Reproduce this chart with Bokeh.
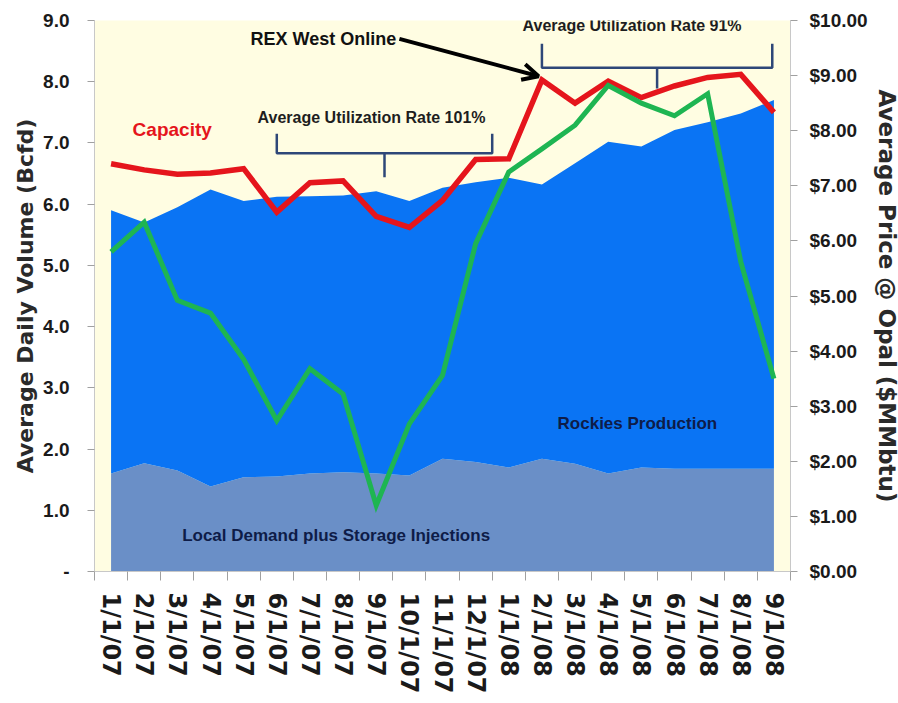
from bokeh.plotting import figure
from bokeh.models import (Range1d, LinearAxis, FixedTicker, NumeralTickFormatter,
                          Label, Arrow, OpenHead, ColumnDataSource)
from bokeh.embed import file_html
from bokeh.resources import INLINE

# ---------------- data ----------------
months = ["1/1/07", "2/1/07", "3/1/07", "4/1/07", "5/1/07", "6/1/07", "7/1/07",
          "8/1/07", "9/1/07", "10/1/07", "11/1/07", "12/1/07", "1/1/08", "2/1/08",
          "3/1/08", "4/1/08", "5/1/08", "6/1/08", "7/1/08", "8/1/08", "9/1/08"]
local_demand = [1.60, 1.77, 1.65, 1.39, 1.54, 1.55, 1.60, 1.62, 1.60, 1.57, 1.84,
                1.79, 1.70, 1.84, 1.76, 1.60, 1.70, 1.68, 1.68, 1.68, 1.68]
rockies_production = [5.90, 5.70, 5.95, 6.24, 6.05, 6.12, 6.13, 6.14, 6.21, 6.05, 6.27,
                      6.36, 6.43, 6.32, 6.67, 7.02, 6.94, 7.21, 7.34, 7.48, 7.70]
capacity = [6.66, 6.56, 6.49, 6.51, 6.58, 5.87, 6.35, 6.38, 5.80, 5.62, 6.06,
            6.73, 6.74, 8.03, 7.65, 8.01, 7.74, 7.93, 8.07, 8.12, 7.50]
price = [5.80, 6.34, 4.92, 4.69, 3.85, 2.74, 3.68, 3.22, 1.20, 2.68, 3.56,
         5.95, 7.25, 7.67, 8.10, 8.82, 8.50, 8.27, 8.67, 5.62, 3.50]
volume_ticks = [0, 1, 2, 3, 4, 5, 6, 7, 8, 9]
volume_tick_labels = ["-", "1.0", "2.0", "3.0", "4.0", "5.0", "6.0", "7.0", "8.0", "9.0"]
price_ticks = [0, 1, 2, 3, 4, 5, 6, 7, 8, 9, 10]

# ---------------- styles ----------------
CREAM = "#FFFDE2"
BLUE = "#0A74F4"
GREYBLUE = "#6A8FC7"
RED = "#E5151C"
GREEN = "#1EB552"
NAVY = "#0E1C48"
BRACKET = "#2E4778"
AXIS_GREY = "#C8C8C8"
TICK_FONT = "Liberation Sans"
XTICK_FONT = "DejaVu Sans"
TITLE_FONT = "DejaVu Sans"

n = len(months)
xc = [i + 0.5 for i in range(n)]
zeros = [0] * n
src = ColumnDataSource(dict(x=xc, base=zeros, local=local_demand, prod=rockies_production,
                            cap=capacity, price=price))

p = figure(frame_width=696, frame_height=551, x_range=Range1d(0, n),
           y_range=Range1d(0, volume_ticks[-1]),
           output_backend="svg", toolbar_location=None,
           min_border_left=94, min_border_right=106, min_border_top=20, min_border_bottom=130)
p.extra_y_ranges = {"price": Range1d(0, price_ticks[-1])}
p.background_fill_color = CREAM
p.border_fill_color = "white"
p.outline_line_color = None
p.xgrid.visible = False
p.ygrid.visible = False

# areas
p.varea(x="x", y1="base", y2="local", source=src, fill_color=GREYBLUE)
p.varea(x="x", y1="local", y2="prod", source=src, fill_color=BLUE)
# lines
p.line(x="x", y="cap", source=src, line_color=RED, line_width=5.5, line_join="miter")
p.line(x="x", y="price", source=src, y_range_name="price", line_color=GREEN, line_width=5,
       line_join="miter")

# ---------------- axes ----------------
xa = p.xaxis[0]
xa.ticker = FixedTicker(ticks=xc, minor_ticks=list(range(n + 1)))
xa.major_label_overrides = {xc[i]: months[i] for i in range(n)}
xa.major_label_orientation = "vertical"
xa.major_tick_line_color = None
xa.minor_tick_in = 0
xa.minor_tick_out = 9
xa.minor_tick_line_color = "#A0A0A0"
xa.axis_line_color = AXIS_GREY
xa.major_label_standoff = 12
xa.major_label_text_font = XTICK_FONT
xa.major_label_text_font_style = "bold"
xa.major_label_text_font_size = "24px"
xa.major_label_text_color = "#1A1A1A"

ya = p.yaxis[0]
# ticks listed top-down
ya.ticker = FixedTicker(ticks=volume_ticks[::-1], minor_ticks=[])
ya.major_label_overrides = {volume_ticks[i]: volume_tick_labels[i] for i in range(len(volume_ticks))}
ya.major_tick_in = 0
ya.major_tick_out = 7
ya.major_tick_line_color = "#A0A0A0"
ya.axis_line_color = AXIS_GREY
ya.major_label_standoff = 18
ya.major_label_text_font = TICK_FONT
ya.major_label_text_font_style = "bold"
ya.major_label_text_font_size = "19px"
ya.major_label_text_color = "#1A1A1A"
ya.axis_label = "Average Daily Volume (Bcfd)"
ya.axis_label_text_font = TITLE_FONT
ya.axis_label_text_font_style = "bold"
ya.axis_label_text_font_size = "22px"
ya.axis_label_text_color = "#2A2A2A"
ya.axis_label_standoff = 2

ra = LinearAxis(y_range_name="price", ticker=FixedTicker(ticks=price_ticks, minor_ticks=[]),
                formatter=NumeralTickFormatter(format="$0.00"))
ra.major_tick_in = 0
ra.major_tick_out = 7
ra.major_tick_line_color = "#A0A0A0"
ra.axis_line_color = AXIS_GREY
ra.major_label_standoff = 12
ra.major_label_text_font = TICK_FONT
ra.major_label_text_font_style = "bold"
ra.major_label_text_font_size = "19px"
ra.major_label_text_color = "#1A1A1A"
ra.axis_label = "Average Price @ Opal ($MMbtu)"
ra.axis_label_text_font = TITLE_FONT
ra.axis_label_text_font_style = "bold"
ra.axis_label_text_font_size = "23px"
ra.axis_label_text_color = "#2A2A2A"
ra.axis_label_standoff = 3
p.add_layout(ra, "right")

# ---------------- annotations ----------------
def label(x, y, text, size, color, align="left"):
    p.add_layout(Label(x=x, y=y, text=text, text_font=TICK_FONT, text_font_style="bold",
                       text_font_size=size, text_color=color, text_align=align,
                       text_baseline="middle"))

label(1.15, 7.22, "Capacity", "19px", RED)
label(4.71, 8.70, "REX West Online", "18px", "#111111")
label(8.36, 7.42, "Average Utilization Rate 101%", "16px", "#1E1E1E", "center")
label(16.22, 8.92, "Average Utilization Rate 91%", "16px", "#1E1E1E", "center")
label(16.38, 2.42, "Rockies Production", "17px", NAVY, "center")
label(7.29, 0.59, "Local Demand plus Storage Injections", "17px", NAVY, "center")

# arrow pointing at REX West start (capacity jump at 2/1/08)
p.add_layout(Arrow(end=OpenHead(line_width=4, size=16, line_color="black"),
                   x_start=9.2, y_start=8.70, x_end=xc[13] - 0.1, y_end=capacity[13] + 0.06,
                   line_width=4, line_color="black"))

# brackets
def bracket(x0, x1, y_h, y_top, y_tip):
    xm = (x0 + x1) / 2
    p.multi_line(xs=[[x0, x0, x1, x1], [xm, xm]], ys=[[y_top, y_h, y_h, y_top], [y_h, y_tip]],
                 line_color=BRACKET, line_width=2.5)

bracket(xc[5], 12.0, 6.83, 7.15, 6.44)
bracket(xc[13], xc[20] - 0.05, 8.23, 8.62, 7.89)

open("out.html", "w").write(file_html(p, INLINE))
